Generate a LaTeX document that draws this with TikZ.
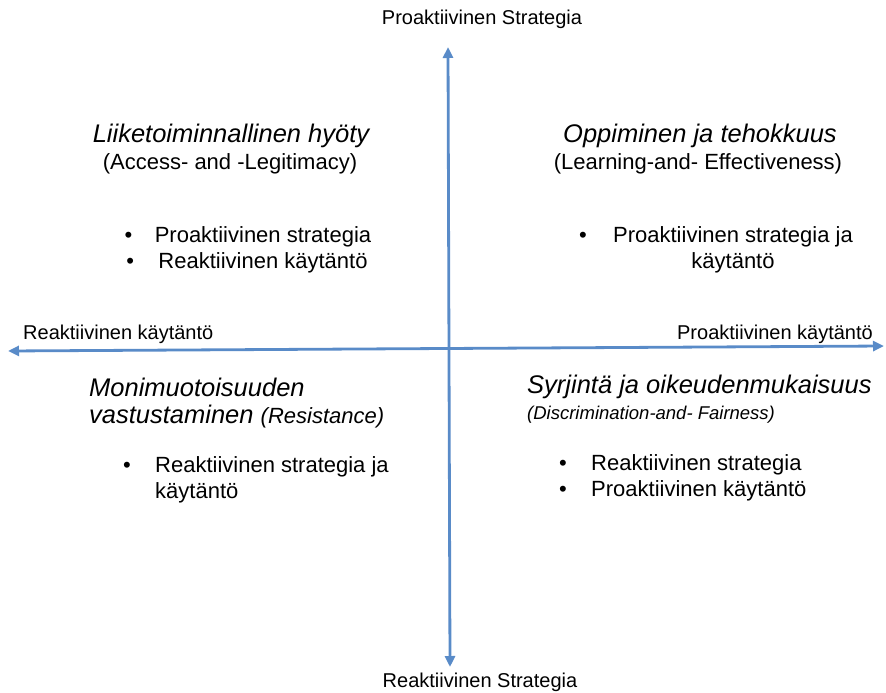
\documentclass[tikz,border=0pt]{standalone}
\usepackage{fontspec}
\setmainfont{Liberation Sans}
\usetikzlibrary{arrows.meta}
\definecolor{axisblue}{RGB}{89,139,200}
\tikzset{
  axis/.style={draw=axisblue, line width=2.8pt, {Triangle[length=11pt,width=10pt]}-{Triangle[length=11pt,width=10pt]}},
  axlabel/.style={inner sep=0pt, font=\fontsize{20}{24}\selectfont},
  head/.style={inner sep=0pt, font=\fontsize{25.5}{30}\selectfont\itshape},
  sub/.style={inner sep=0pt, font=\fontsize{22}{26}\selectfont},
  subit/.style={inner sep=0pt, font=\fontsize{18.5}{22}\selectfont\itshape},
  bul/.style={inner sep=0pt, font=\fontsize{22}{26}\selectfont},
}
\begin{document}
\begin{tikzpicture}[x=1pt,y=-1pt]
\useasboundingbox (0,0) rectangle (886,693);
% axes
\coordinate (vt) at (448,47);
\coordinate (vb) at (450,667);
\coordinate (hl) at (8,351);
\coordinate (hr) at (884,346);
\draw[axis] (vb) -- (vt);
\draw[axis] (hl) -- (hr);
% axis labels
\node[axlabel] (ltop) at (482,19) {Proaktiivinen Strategia};
\node[axlabel] (lbot) at (480,682) {Reaktiivinen Strategia};
\node[axlabel, anchor=west] (lleft) at (23,334) {Reaktiivinen käytäntö};
\node[axlabel, anchor=east] (lright) at (873,334) {Proaktiivinen käytäntö};
% upper left
\node[head] (ulh) at (231,136) {Liiketoiminnallinen hyöty};
\node[sub] (uls) at (230,164) {(Access- and -Legitimacy)};
\node[bul] (ulb1) at (263,237) {Proaktiivinen strategia};
\node[bul] (ulb2) at (263,263) {Reaktiivinen käytäntö};
\node[bul] (uld1) at ([xshift=-26pt]ulb1.west) {•};
\node[bul] (uld2) at ([xshift=-28pt]ulb2.west) {•};
% upper right
\node[head] (urh) at (700,136) {Oppiminen ja tehokkuus};
\node[sub] (urs) at (698,164) {(Learning-and- Effectiveness)};
\node[bul] (urb1) at (733,237) {Proaktiivinen strategia ja};
\node[bul] (urb2) at (733,263) {käytäntö};
\node[bul] (urd1) at ([xshift=-30pt]urb1.west) {•};
% lower left
\node[head, anchor=west] (llh1) at (89,387) {Monimuotoisuuden};
\node[head, anchor=west] (llh2) at (89,417) {vastustaminen \fontsize{22}{26}\selectfont(Resistance)};
\node[bul, anchor=west] (llb1) at (155,467) {Reaktiivinen strategia ja};
\node[bul, anchor=west] (llb2) at (155,493) {käytäntö};
\node[bul] (lld1) at ([xshift=-28pt]llb1.west) {•};
% lower right
\node[head, anchor=west] (lrh) at (527,387) {Syrjintä ja oikeudenmukaisuus};
\node[subit, anchor=west] (lrs) at (527,415) {(Discrimination-and- Fairness)};
\node[bul, anchor=west] (lrb1) at (591,465) {Reaktiivinen strategia};
\node[bul, anchor=west] (lrb2) at (591,491) {Proaktiivinen käytäntö};
\node[bul] (lrd1) at ([xshift=-28pt]lrb1.west) {•};
\node[bul] (lrd2) at ([xshift=-28pt]lrb2.west) {•};
\end{tikzpicture}
\end{document}
